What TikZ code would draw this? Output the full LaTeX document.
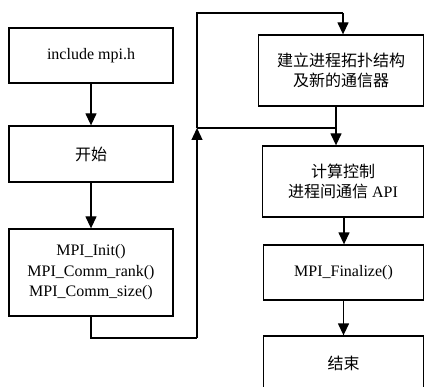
\documentclass[tikz,border=0pt]{standalone}
\usepackage{fontspec}
\setmainfont{Liberation Serif}
\newfontfamily\cjk{Noto Sans CJK SC}
\usetikzlibrary{arrows.meta}
\begin{document}
\begin{tikzpicture}[x=1pt,y=-1pt,
  box/.style={draw,line width=1.3pt,inner sep=0pt,align=center,
    font=\fontsize{16}{20.5}\selectfont},
  flow/.style={line width=1.3pt},
  arr/.style={flow,-{Triangle[width=11pt,length=12pt]}}]
\useasboundingbox (0,0) rectangle (425,387);
\clip (0,0) rectangle (425,387);
% left column
\node[box,minimum width=164pt,minimum height=55pt] (inc) at (91,55.5) {include mpi.h};
\node[box,minimum width=164pt,minimum height=56pt] (start) at (91,154) {\cjk 开始};
\node[box,minimum width=164pt,minimum height=87pt] (init) at (91,272.5)
  {MPI\_Init()\\MPI\_Comm\_rank()\\MPI\_Comm\_size()};
% right column
\node[box,minimum width=165pt,minimum height=71pt] (topo) at (341,70.5)
  {\cjk 建立进程拓扑结构\\\cjk 及新的通信器};
\node[box,minimum width=161pt,minimum height=71pt] (comp) at (343,181.5)
  {\cjk 计算控制\\{\cjk 进程间通信} API};
\node[box,minimum width=160pt,minimum height=55pt] (fin) at (343.5,272.5) {MPI\_Finalize()};
\node[box,minimum width=160pt,minimum height=54pt] (end) at (343.5,363) {\cjk 结束};
% routing points
\coordinate (low) at (91,338);
\coordinate (up) at (197,338);
\coordinate (join) at (197,128);
\coordinate (top) at (197,13);
\coordinate (drop) at (343,13);
\coordinate (mid) at (336,128);
% connectors
\draw[arr] (inc) -- (start);
\draw[arr] (start) -- (init);
\draw[flow] (init.south) -- (low) -- (up);
\draw[arr] (up) -- (join);
\draw[flow] (join) -- (top) -- (drop);
\draw[arr] (drop) -- (topo.north -| drop);
\draw[flow] (join) -- (mid);
\draw[arr] (topo.south -| mid) -- (comp.north -| mid);
\draw[arr] (comp.south -| 344,0) -- (fin.north -| 344,0);
\draw[arr] (fin) -- (end);
\end{tikzpicture}
\end{document}
